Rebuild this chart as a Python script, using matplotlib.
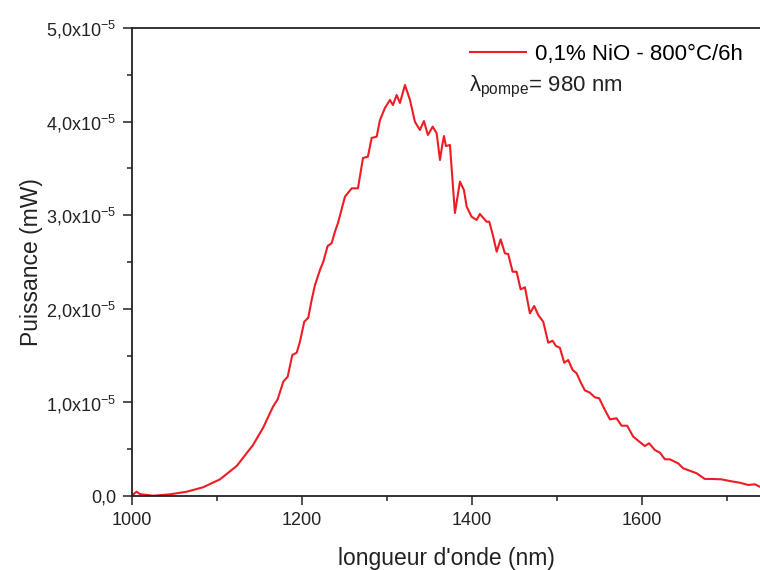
import numpy as np
import matplotlib
matplotlib.use("Agg")
import matplotlib.pyplot as plt
from matplotlib.ticker import MultipleLocator

plt.rcParams['font.family'] = ['Liberation Sans', 'DejaVu Sans']
plt.rcParams['mathtext.fontset'] = 'custom'
plt.rcParams['mathtext.rm'] = 'Liberation Sans'
plt.rcParams['mathtext.it'] = 'Liberation Sans:italic'

# longueur d'onde (nm) / puissance (unités de 1e-5 mW)
wl = [1000, 1003, 1005.5, 1009.4, 1024.7, 1044.7, 1064.4, 1083.5, 1103.5, 1123.2,
      1142.4, 1154.1, 1165.9, 1171.4, 1178.0, 1183.2, 1188.6, 1193.8, 1197.6, 1202.7,
      1207.4, 1211.4, 1215.3, 1221.2, 1225.1, 1230.2, 1234.9, 1238.8, 1242.4, 1250.6,
      1258.5, 1265.9, 1271.8, 1277.6, 1282.0, 1287.9, 1291.8, 1297.6, 1303.5, 1307.1,
      1311.4, 1315.3, 1321.2, 1327.1, 1332.9, 1338.8, 1343.5, 1348.2, 1353.8, 1358.5,
      1362.4, 1365.1, 1367.1, 1369.4, 1374.1, 1380.0, 1385.9, 1390.6, 1393.8, 1399.6,
      1405.5, 1409.4, 1417.3, 1420.4, 1425.1, 1429.1, 1433.8, 1438.8, 1442.7, 1447.9,
      1452.6, 1457.3, 1462.4, 1468.2, 1473.3, 1478.0, 1483.9, 1489.8, 1494.9, 1498.8,
      1503.5, 1508.6, 1513.3, 1518.5, 1523.2, 1528.2, 1532.9, 1538.8, 1544.7, 1549.8,
      1556.5, 1562.4, 1570.2, 1576.1, 1582.7, 1589.8, 1595.6, 1603.5, 1608.6, 1615.3,
      1621.2, 1627.1, 1632.9, 1642.7, 1648.6, 1656.5, 1664.4, 1674.1, 1683.9, 1693.8,
      1703.5, 1715.3, 1725.1, 1733.0, 1738.8]
p = [0.0, 0.03, 0.046, 0.02, 0.003, 0.018, 0.046, 0.093, 0.178, 0.321,
     0.545, 0.726, 0.954, 1.033, 1.221, 1.275, 1.506, 1.531, 1.648, 1.862,
     1.905, 2.094, 2.254, 2.415, 2.503, 2.671, 2.700, 2.824, 2.917, 3.198,
     3.287, 3.287, 3.611, 3.625, 3.825, 3.839, 4.017, 4.145, 4.231, 4.177,
     4.284, 4.199, 4.391, 4.231, 3.999, 3.910, 4.006, 3.857, 3.946, 3.875,
     3.590, 3.750, 3.846, 3.739, 3.750, 3.024, 3.358, 3.269, 3.091, 2.984,
     2.949, 3.013, 2.930, 2.931, 2.770, 2.610, 2.742, 2.593, 2.585, 2.396,
     2.396, 2.208, 2.230, 1.952, 2.030, 1.934, 1.862, 1.638, 1.659, 1.603,
     1.584, 1.424, 1.453, 1.346, 1.311, 1.210, 1.129, 1.104, 1.054, 1.044,
     0.919, 0.819, 0.830, 0.751, 0.751, 0.634, 0.591, 0.534, 0.563, 0.491,
     0.463, 0.392, 0.392, 0.349, 0.296, 0.270, 0.243, 0.182, 0.182, 0.178,
     0.160, 0.142, 0.118, 0.125, 0.099]

yticks = [0, 1e-5, 2e-5, 3e-5, 4e-5, 5e-5]
ylabels = ['0,0', '1,0x10$^{-5}$', '2,0x10$^{-5}$', '3,0x10$^{-5}$',
           '4,0x10$^{-5}$', '5,0x10$^{-5}$']
xticks = [1000, 1200, 1400, 1600]

fig = plt.figure(figsize=(7.6, 5.7), dpi=100)
ax = fig.add_axes([0.1737, 0.1298, 0.8263, 0.8211])

ax.plot(wl, np.array(p) * 1e-5, color='#ee1c24', lw=1.5,
        label="0,1% NiO - 800°C/6h")

ax.set_xlim(1000, 1739)
ax.set_ylim(0, 5e-5)
ax.set_xticks(xticks)
ax.xaxis.set_minor_locator(MultipleLocator(100))
ax.set_yticks(yticks)
ax.set_yticklabels(ylabels)
ax.yaxis.set_minor_locator(MultipleLocator(0.5e-5))

ax.spines['right'].set_visible(False)
for s in ['left', 'bottom', 'top']:
    ax.spines[s].set_linewidth(1.3)
    ax.spines[s].set_color('#222222')
ax.tick_params(which='major', direction='out', length=6.5, width=1.1,
               colors='#222222', labelsize=13, pad=5)
ax.tick_params(which='minor', direction='out', length=3.3, width=1.1,
               colors='#222222')
ax.tick_params(top=False, right=False, which='both')

ax.set_xlabel("longueur d'onde (nm)", fontsize=16.5, color='#222222', labelpad=13)
ax.set_ylabel("Puissance (mW)", fontsize=16.5, color='#222222', labelpad=2)

ax.legend(loc='upper left', bbox_to_anchor=(0.514, 1.0), frameon=False,
          fontsize=16, handlelength=2.5, handletextpad=0.4, borderaxespad=0.3)
ax.text(0.536, 0.875, "λ$_{\\mathrm{pompe}}$= 980 nm", transform=ax.transAxes,
        fontsize=16, color='#222222', va='center', ha='left')

fig.savefig("out.png", dpi=100)
